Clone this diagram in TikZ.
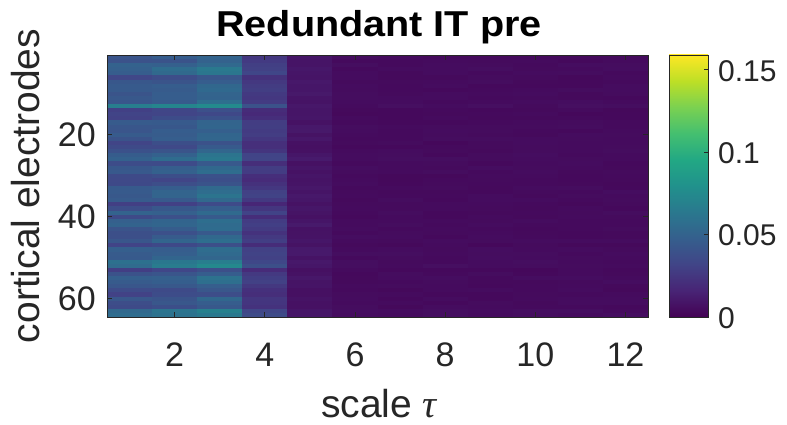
\documentclass[tikz,border=0pt]{standalone}
\usepackage{fontspec}
\setmainfont{Liberation Sans}
\newfontfamily\serifgreek{Liberation Serif}
\definecolor{v0}{HTML}{440154}
\definecolor{v1}{HTML}{482475}
\definecolor{v2}{HTML}{414487}
\definecolor{v3}{HTML}{355F8D}
\definecolor{v4}{HTML}{2A788E}
\definecolor{v5}{HTML}{21918C}
\definecolor{v6}{HTML}{22A884}
\definecolor{v7}{HTML}{44BF70}
\definecolor{v8}{HTML}{7AD151}
\definecolor{v9}{HTML}{BDDF26}
\definecolor{v10}{HTML}{FDE725}
\definecolor{axc}{HTML}{262626}
\pgfdeclareverticalshading{viridisbar}{100bp}{color(0bp)=(v0); color(25bp)=(v0); color(30bp)=(v1); color(35bp)=(v2); color(40bp)=(v3); color(45bp)=(v4); color(50bp)=(v5); color(55bp)=(v6); color(60bp)=(v7); color(65bp)=(v8); color(70bp)=(v9); color(75bp)=(v10); color(100bp)=(v10)}
\tikzset{
  ticklab/.style={inner sep=0pt, text=axc, font=\fontsize{34}{40}\selectfont},
  cblab/.style={inner sep=0pt, text=axc, font=\fontsize{30}{36}\selectfont},
  axlab/.style={inner sep=0pt, text=axc, font=\fontsize{39}{46}\selectfont},
  titlelab/.style={inner sep=0pt, text=black, font=\fontsize{36}{43}\selectfont\bfseries},
  frame/.style={draw=axc, line width=0.9pt},
  tickmark/.style={draw=axc, line width=0.9pt}
}
\def\rowf{{1.0,0.95,1.1,1.2,1.15,0.8,0.95,1.0,1.05,0.95,1.0,1.05,1.5,0.7,0.7,0.75,1.0,1.0,0.95,1.05,1.0,0.8,0.8,0.95,1.1,1.15,0.8,1.05,1.05,0.8,0.75,0.8,1.0,1.05,1.1,1.0,0.65,0.9,1.1,0.8,1.05,1.1,1.0,0.9,0.95,1.05,0.75,1.05,1.1,1.05,1.3,1.35,0.7,0.95,1.1,1.05,0.95,0.8,0.75,0.95,0.9,0.85,1.25,1.3}}
\def\colb{{0.27,0.29,0.33,0.17,0.058,0.03,0.029,0.029,0.029,0.029,0.029,0.029}}
\begin{document}
\begin{tikzpicture}[x=1pt,y=-1pt]
\useasboundingbox (0,0) rectangle (787,425);
\fill[white] (0,0) rectangle (787,425);
% heatmap cells
\pgfmathsetseed{4242}
\begin{scope}
\clip (107,55) rectangle (648,317);
\foreach \r in {1,...,64}{
  \foreach \c in {1,...,12}{
    \pgfmathsetmacro{\f}{\rowf[\r-1]}
    \pgfmathsetmacro{\b}{\colb[\c-1]}
    \ifnum\c<5
      \pgfmathsetmacro{\t}{\b*\f*(0.93+0.14*rnd)}
    \else
      \pgfmathsetmacro{\t}{\b*(0.6+0.4*\f)*(0.8+0.4*rnd)}
    \fi
    \pgfmathsetmacro{\t}{min(max(\t,0),0.999)}
    \pgfmathtruncatemacro{\i}{floor(\t*10)}
    \pgfmathtruncatemacro{\j}{\i+1}
    \pgfmathtruncatemacro{\p}{round(100*(1-(\t*10-\i)))}
    \pgfmathsetmacro{\xa}{107+45.0833*(\c-1)}
    \pgfmathsetmacro{\ya}{55+4.09375*(\r-1)}
    \fill[v\i!\p!v\j] (\xa,\ya) rectangle (\xa+45.5,\ya+4.5);
  }
}
\end{scope}
% axes frame
\node[frame, minimum width=541pt, minimum height=262pt, anchor=north west, inner sep=0pt] (ax) at (107,55) {};
% x ticks
\foreach \k in {2,4,...,12}{
  \pgfmathsetmacro{\xx}{107+45.0833*(\k-0.5)}
  \draw[tickmark] (\xx,317) -- (\xx,312);
  \draw[tickmark] (\xx,55) -- (\xx,60);
  \node[ticklab, anchor=base] (xt\k) at (\xx,366) {\k};
}
% y ticks
\foreach \k in {20,40,60}{
  \pgfmathsetmacro{\yy}{55+4.09375*(\k-0.5)}
  \draw[tickmark] (107,\yy) -- (112,\yy);
  \draw[tickmark] (648,\yy) -- (643,\yy);
  \node[ticklab, anchor=east] (yt\k) at (96,\yy) {\k};
}
% colorbar
\shade[shading=viridisbar] (669,55) rectangle (708,317);
\node[frame, minimum width=39pt, minimum height=262pt, anchor=north west, inner sep=0pt] (cb) at (669,55) {};
\foreach \v/\lab/\nm in {0/0/c0, 0.05/0.05/c1, 0.1/0.1/c2, 0.15/0.15/c3}{
  \pgfmathsetmacro{\yy}{317-262*\v/0.159}
  \draw[tickmark] (708,\yy) -- (704,\yy);
  \node[cblab, anchor=west] (\nm) at (718,\yy+1) {\lab};
}
% labels
\node[titlelab, anchor=base] (title) at (379,37) {\scalebox{1.1}[1]{Redundant IT pre}};
\node[axlab, anchor=base] (xlab) at (379,417) {scale {\serifgreek\itshape τ}};
\node[axlab, anchor=base, rotate=90] (ylab) at (39,186) {cortical electrodes};
\end{tikzpicture}
\end{document}
